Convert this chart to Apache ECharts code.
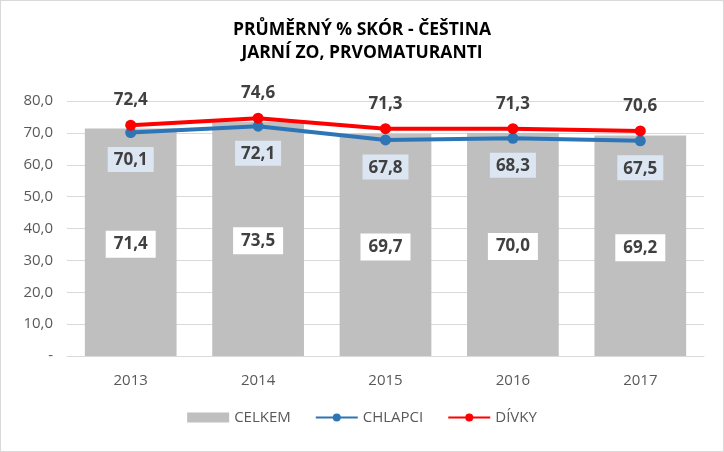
<!DOCTYPE html>
<html><head><meta charset="utf-8">
<script src="https://cdn.jsdelivr.net/npm/echarts@6/dist/echarts.min.js"></script>
<style>html,body{margin:0;padding:0;background:#fff}#c{width:724px;height:452px;box-sizing:border-box;border:1px solid #d9d9d9}</style>
</head><body><div id="c"></div>
<script>
const categories = ['2013','2014','2015','2016','2017'];
const celkem = [71.4, 73.5, 69.7, 70.0, 69.2];
const chlapci = [70.1, 72.1, 67.8, 68.3, 67.5];
const divky = [72.4, 74.6, 71.3, 71.3, 70.6];
const yTicks = [0,10,20,30,40,50,60,70,80];

const fmt = v => v.toFixed(1).replace('.', ',');
const FONT = '"Open Sans", "Noto Sans", sans-serif';
const chart = echarts.init(document.getElementById('c'));
chart.setOption({
  animation: false,
  textStyle: {fontFamily: FONT},
  title: {
    text: 'PRŮMĚRNÝ % SKÓR - ČEŠTINA\nJARNÍ ZO, PRVOMATURANTI',
    left: 'center', top: 13,
    textStyle: {fontFamily: FONT, fontSize: 17.5, fontWeight: 'bold', color: '#000', lineHeight: 23}
  },
  legend: {
    bottom: 21, left: 'center', itemGap: 24, itemWidth: 42, itemHeight: 10,
    textStyle: {fontFamily: FONT, fontSize: 15, color: '#595959'},
    data: [{name:'CELKEM', icon:'rect'}, 'CHLAPCI', 'DÍVKY']
  },
  grid: {left: 66, right: 19, top: 100, bottom: 95},
  xAxis: {
    type: 'category', data: categories,
    axisLine: {lineStyle: {color: '#d9d9d9'}},
    axisTick: {show: false},
    axisLabel: {fontFamily: FONT, fontSize: 15, color: '#595959', margin: 17}
  },
  yAxis: {
    type: 'value', min: yTicks[0], max: yTicks[yTicks.length-1], interval: 10,
    axisLine: {show: false}, axisTick: {show: false},
    splitLine: {lineStyle: {color: '#d9d9d9', width: 1}},
    axisLabel: {fontFamily: FONT, fontSize: 15, color: '#595959', margin: 14,
      formatter: v => v === 0 ? '-' : fmt(v)}
  },
  series: [
    {
      name: 'CELKEM', type: 'bar', data: celkem, barWidth: '72%',
      itemStyle: {color: '#bfbfbf'},
      label: {show: true, position: 'inside', formatter: p => fmt(p.value),
        backgroundColor: '#fff', padding: [6, 8, 4, 8], offset: [0, 2],
        fontFamily: FONT, fontSize: 17, fontWeight: 'bold', color: '#404040'}
    },
    {
      name: 'CHLAPCI', type: 'line', data: chlapci, z: 3,
      lineStyle: {color: '#2e75b6', width: 4},
      itemStyle: {color: '#2e75b6'}, symbol: 'circle', symbolSize: 11,
      label: {show: true, position: 'bottom', distance: 9, formatter: p => fmt(p.value),
        backgroundColor: '#dce6f2', padding: [5, 6, 3, 6],
        fontFamily: FONT, fontSize: 17, fontWeight: 'bold', color: '#404040'}
    },
    {
      name: 'DÍVKY', type: 'line', data: divky, z: 4,
      lineStyle: {color: '#ff0000', width: 4},
      itemStyle: {color: '#ff0000'}, symbol: 'circle', symbolSize: 11,
      label: {show: true, position: 'top', distance: 11, formatter: p => fmt(p.value),
        fontFamily: FONT, fontSize: 17, fontWeight: 'bold', color: '#404040'}
    }
  ]
});
</script></body></html>
